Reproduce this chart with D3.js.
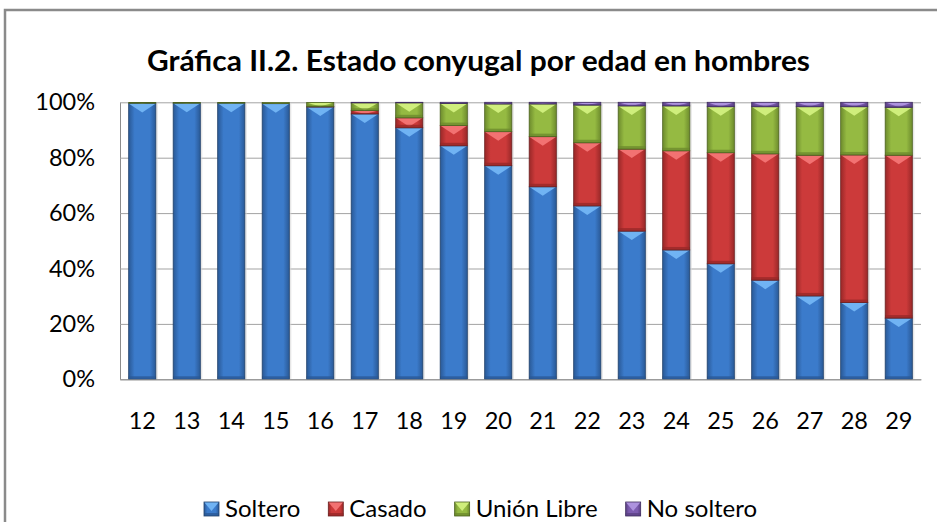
<!DOCTYPE html>
<html>
<head>
<meta charset="utf-8">
<script src="https://cdn.jsdelivr.net/npm/d3@7"></script>
<style>
  body { margin: 0; background: #fff; }
  svg { display: block; font-family: Lato, "Open Sans", sans-serif; }
</style>
</head>
<body>
<svg width="937" height="522"></svg>
<script>
// valores (porcentaje por edad)
var edades = ["12","13","14","15","16","17","18","19","20","21","22","23","24","25","26","27","28","29"];
var soltero    = [99.6, 99.7, 99.7, 99.5, 98.3, 95.8, 90.8, 84.3, 77.1, 69.5, 62.6, 53.5, 46.7, 41.7, 35.8, 30.1, 27.7, 22.1];
var casado     = [0.1, 0.0, 0.0, 0.1, 0.2, 1.2, 3.6, 7.3, 12.3, 18.1, 22.8, 29.6, 35.8, 40.1, 45.6, 50.8, 53.3, 58.8];
var unionLibre = [0.2, 0.2, 0.2, 0.3, 1.4, 2.8, 5.4, 8.0, 10.0, 11.8, 13.6, 15.6, 16.2, 16.6, 17.0, 17.5, 17.4, 17.3];
var noSoltero  = [0.1, 0.1, 0.1, 0.1, 0.1, 0.2, 0.2, 0.4, 0.6, 0.6, 1.0, 1.3, 1.3, 1.6, 1.6, 1.6, 1.6, 1.8];
var series = ["Soltero", "Casado", "Unión Libre", "No soltero"];
var yTicks = [0, 0.2, 0.4, 0.6, 0.8, 1];
var titulo = "Gráfica II.2. Estado conyugal por edad en hombres";

// colores: base, borde lateral, faceta superior, contorno
var colores = {
  "Soltero":     { base: "#3b7bcb", edge: "#2a5996", top: "#70b3f3", line: "#22426b" },
  "Casado":      { base: "#cc3a3a", edge: "#982828", top: "#f27272", line: "#6b2222" },
  "Unión Libre": { base: "#95ba42", edge: "#6d8b2d", top: "#cfee7c", line: "#4d6220" },
  "No soltero":  { base: "#7d5cb0", edge: "#5b4185", top: "#ad92de", line: "#3f2d5e" }
};

var datos = edades.map(function(e, i) {
  return { edad: e, "Soltero": soltero[i], "Casado": casado[i], "Unión Libre": unionLibre[i], "No soltero": noSoltero[i] };
});

var svg = d3.select("svg");
var pLeft = 120, pRight = 921, pTop = 102.3, pBottom = 379.3;

// marco exterior
svg.append("rect")
    .attr("x", 5).attr("y", 10)
    .attr("width", 940).attr("height", 530)
    .attr("fill", "none")
    .attr("stroke", "#8a8a8a")
    .attr("stroke-width", 2.5);

var defs = svg.append("defs");
series.forEach(function(s, k) {
  var g = defs.append("linearGradient").attr("id", "grad" + k)
      .attr("x1", "0%").attr("x2", "100%").attr("y1", "0%").attr("y2", "0%");
  g.append("stop").attr("offset", "0%").attr("stop-color", colores[s].edge);
  g.append("stop").attr("offset", "22%").attr("stop-color", colores[s].base);
  g.append("stop").attr("offset", "78%").attr("stop-color", colores[s].base);
  g.append("stop").attr("offset", "100%").attr("stop-color", colores[s].edge);
});

var x = d3.scaleBand()
    .domain(edades)
    .range([pLeft, pRight])
    .paddingInner(0.39)
    .paddingOuter(0.195);

var y = d3.scaleLinear()
    .domain([0, 1])
    .range([pBottom, pTop]);

// rejilla y eje vertical
var yAxis = svg.append("g")
    .attr("transform", "translate(" + pLeft + ",0)")
    .call(d3.axisLeft(y).tickValues(yTicks).tickFormat(d3.format(".0%"))
      .tickSize(-(pRight - pLeft)).tickSizeOuter(0).tickPadding(25));
yAxis.selectAll("line").attr("stroke", "#a3a3a3");
yAxis.select(".domain").attr("stroke", "#8c8c8c");
yAxis.selectAll("text")
    .attr("font-size", 23.5)
    .attr("font-family", "Lato, sans-serif")
    .attr("fill", "#000");

var stack = d3.stack().keys(series).offset(d3.stackOffsetExpand);
var capas = stack(datos);

function bisel(g, x0, y0, w, h, k, s) {
  var c = colores[s];
  g.append("rect")
      .attr("x", x0).attr("y", y0).attr("width", w).attr("height", h)
      .attr("fill", "url(#grad" + k + ")");
  var th = Math.min(9, h);
  g.append("path")
      .attr("d", "M" + x0 + "," + y0 + "L" + (x0 + w) + "," + y0 + "L" + (x0 + w / 2) + "," + (y0 + th) + "Z")
      .attr("fill", c.top);
  var bh = Math.min(3, h * 0.3);
  g.append("rect")
      .attr("x", x0).attr("y", y0 + h - bh).attr("width", w).attr("height", bh)
      .attr("fill", c.edge).attr("opacity", 0.8);
  g.append("rect")
      .attr("x", x0).attr("y", y0).attr("width", w).attr("height", h)
      .attr("fill", "none").attr("stroke", c.line).attr("stroke-width", 0.8);
}

// sombra de las barras
svg.append("g").selectAll("rect")
    .data(datos)
    .enter().append("rect")
      .attr("x", function(d) { return x(d.edad) + 2; })
      .attr("y", pTop + 1)
      .attr("width", x.bandwidth())
      .attr("height", pBottom - pTop - 1)
      .attr("fill", "#d6d6d6")
      .attr("opacity", 0.6);

capas.forEach(function(capa, k) {
  var g = svg.append("g").attr("class", "serie");
  capa.forEach(function(d) {
    var y0 = y(d[1]), h = y(d[0]) - y(d[1]);
    if (h < 0.3) return;
    bisel(g, x(d.data.edad), y0, x.bandwidth(), h, k, capa.key);
  });
});

// eje horizontal
var xAxis = svg.append("g")
    .attr("transform", "translate(0," + pBottom + ")")
    .call(d3.axisBottom(x).tickSize(0).tickSizeOuter(0).tickPadding(33));
xAxis.select(".domain").attr("stroke", "#8c8c8c");
xAxis.selectAll("text")
    .attr("font-size", 23.5)
    .attr("font-family", "Lato, sans-serif")
    .attr("fill", "#000");

// titulo
svg.append("text")
    .attr("x", 478.5)
    .attr("y", 71)
    .attr("text-anchor", "middle")
    .attr("font-size", 29)
    .attr("font-weight", "bold")
    .attr("textLength", 663)
    .attr("lengthAdjust", "spacingAndGlyphs")
    .text(titulo);

// leyenda
var leyenda = svg.append("g");
var lx = 204;
series.forEach(function(s, k) {
  var item = leyenda.append("g").attr("transform", "translate(" + lx + ",502)");
  bisel(item, 0, 0, 15, 14, k, s);
  var t = item.append("text")
      .attr("x", 21).attr("y", 15)
      .attr("font-size", 24)
      .attr("fill", "#000")
      .text(s);
  lx += 21 + t.node().getComputedTextLength() + 28;
});
</script>
</body>
</html>
